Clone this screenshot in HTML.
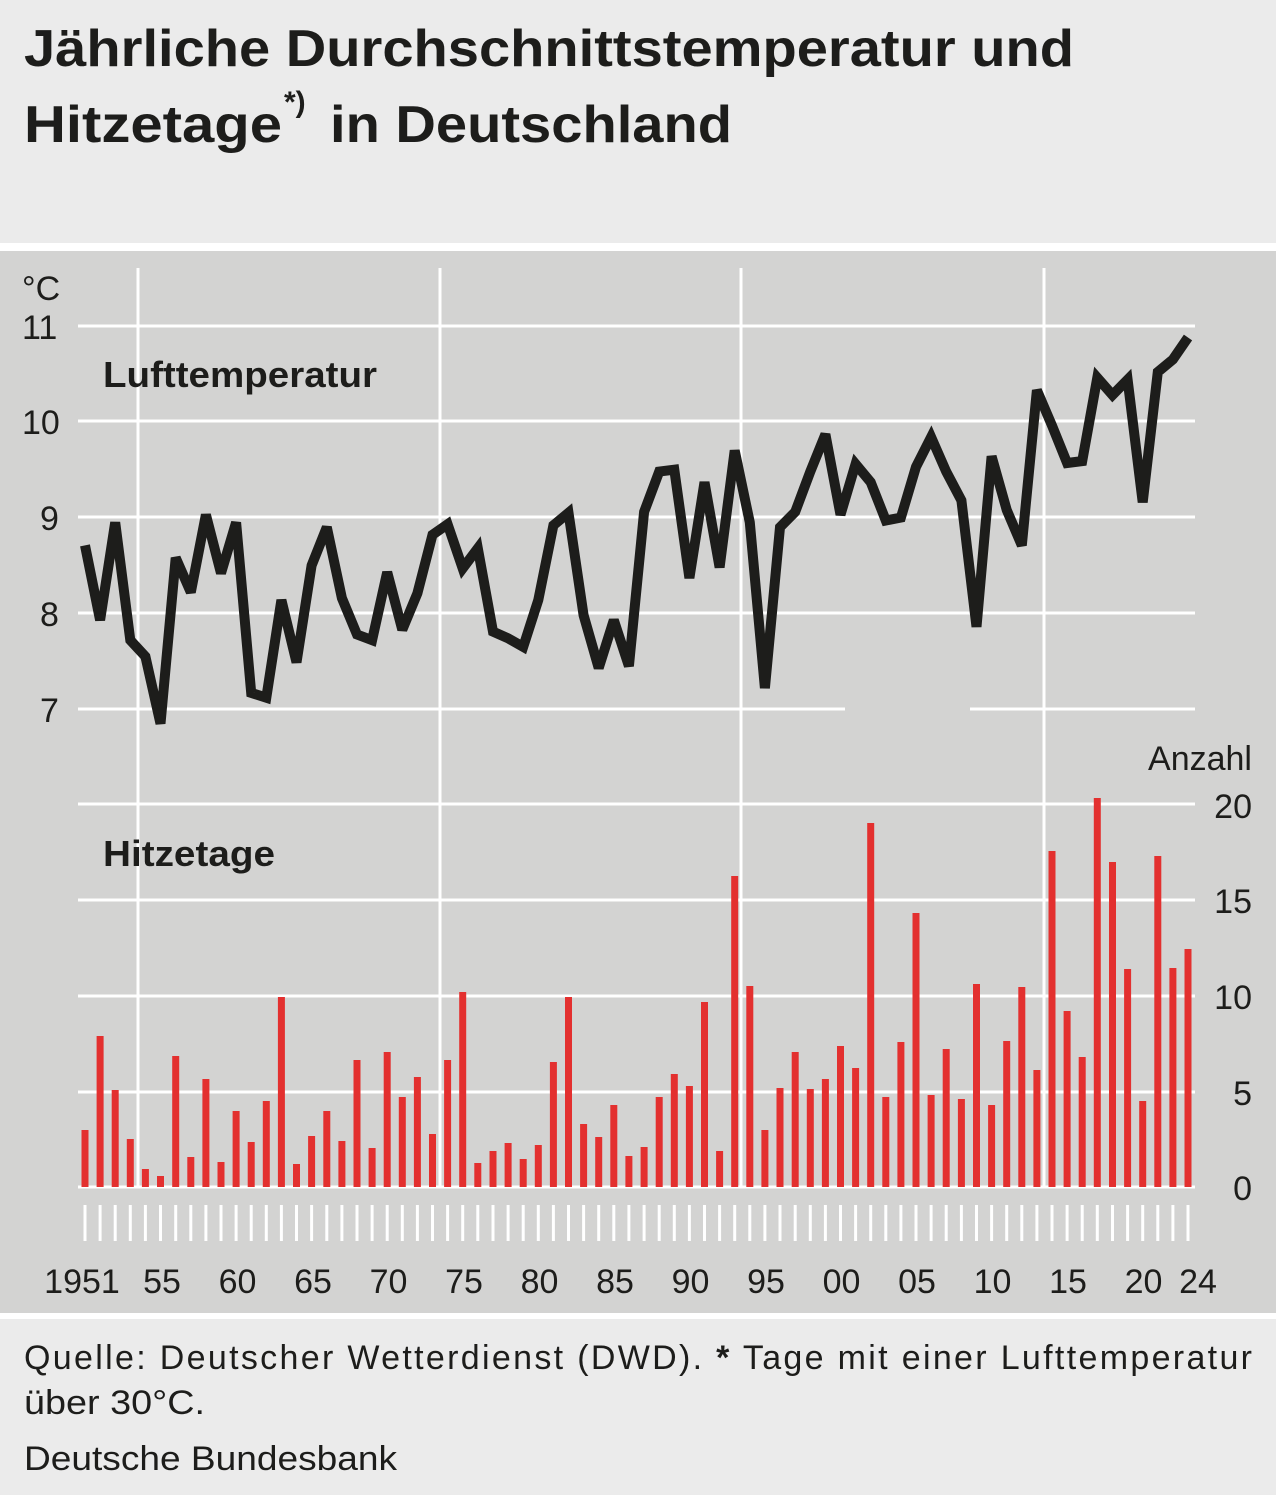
<!DOCTYPE html>
<html><head><meta charset="utf-8"><style>
html,body{margin:0;padding:0;background:#ebebeb;}
svg{display:block;font-family:"Liberation Sans","DejaVu Sans",sans-serif;}
</style></head><body>
<svg id="s" width="1276" height="1495" viewBox="0 0 1276 1495" xmlns="http://www.w3.org/2000/svg">
<rect x="0" y="0" width="1276" height="1495" fill="#ebebeb"/>
<rect x="0" y="243" width="1276" height="8" fill="#ffffff"/>
<rect x="0" y="251" width="1276" height="1062" fill="#d3d3d2"/>
<rect x="0" y="1313" width="1276" height="6" fill="#ffffff"/>
<text x="24" y="66" font-size="52" font-weight="bold" fill="#1d1d1b" textLength="1050" lengthAdjust="spacingAndGlyphs">Jährliche Durchschnittstemperatur und</text>
<text x="24" y="142" font-size="52" font-weight="bold" fill="#1d1d1b" textLength="258" lengthAdjust="spacingAndGlyphs">Hitzetage</text>
<text x="284" y="112" font-size="30" font-weight="bold" fill="#1d1d1b">*)</text>
<text x="330" y="142" font-size="52" font-weight="bold" fill="#1d1d1b" textLength="402" lengthAdjust="spacingAndGlyphs">in Deutschland</text>
<g id="grid" stroke="#ffffff" stroke-width="3"></g>
<g id="bars" fill="#e3302f"></g>
<polyline id="line" fill="none" stroke="#1d1d1b" stroke-width="10" stroke-linejoin="miter" stroke-miterlimit="3"/>
<g id="ticks" stroke="#ffffff" stroke-width="3"></g>
<g font-size="34" fill="#1d1d1b">
<text x="22" y="300">°C</text>
<text x="22" y="339">11</text>
<text x="22" y="434">10</text>
<text x="40" y="530">9</text>
<text x="40" y="626">8</text>
<text x="40" y="722">7</text>
<text x="1252" y="770" text-anchor="end">Anzahl</text>
<text x="1252" y="818" text-anchor="end">20</text>
<text x="1252" y="913" text-anchor="end">15</text>
<text x="1252" y="1009" text-anchor="end">10</text>
<text x="1252" y="1105" text-anchor="end">5</text>
<text x="1252" y="1200" text-anchor="end">0</text>
</g>
<text x="103" y="387" font-size="36" font-weight="bold" fill="#1d1d1b" textLength="274" lengthAdjust="spacingAndGlyphs">Lufttemperatur</text>
<text x="103" y="866" font-size="36" font-weight="bold" fill="#1d1d1b" textLength="172" lengthAdjust="spacingAndGlyphs">Hitzetage</text>
<g id="xl" font-size="34" fill="#1d1d1b" text-anchor="middle"></g>
<text x="24" y="1369" font-size="34" fill="#1d1d1b" textLength="1228" lengthAdjust="spacing">Quelle: Deutscher Wetterdienst (DWD). <tspan font-weight="bold">*</tspan> Tage mit einer Lufttemperatur</text>
<text x="24" y="1414" font-size="34" fill="#1d1d1b" textLength="181" lengthAdjust="spacingAndGlyphs">über 30°C.</text>
<text x="24" y="1470" font-size="34" fill="#1d1d1b" textLength="373" lengthAdjust="spacingAndGlyphs">Deutsche Bundesbank</text>
</svg>
<script>
var NS="http://www.w3.org/2000/svg";
function el(p,t,a,txt){var e=document.createElementNS(NS,t);for(var k in a)e.setAttribute(k,a[k]);if(txt)e.textContent=txt;document.getElementById(p).appendChild(e);return e;}
var hy=[326,421,517,613,709,804,900,996,1092,1187];
hy.forEach(function(y){
 if(y==709){el("grid","line",{x1:78,x2:845,y1:y,y2:y});el("grid","line",{x1:970,x2:1195,y1:y,y2:y});}
 else el("grid","line",{x1:78,x2:1195,y1:y,y2:y});
});
[138,440,741,1044].forEach(function(x){el("grid","line",{x1:x,x2:x,y1:268,y2:1187});});
var temps=[8.71,7.93,8.95,7.72,7.55,6.85,8.58,8.22,9.03,8.42,8.95,7.17,7.12,8.14,7.49,8.5,8.9,8.16,7.78,7.72,8.43,7.83,8.21,8.82,8.93,8.47,8.68,7.81,7.74,7.65,8.14,8.92,9.05,7.98,7.43,7.93,7.45,9.06,9.48,9.5,8.37,9.37,8.48,9.7,8.95,7.22,8.9,9.06,9.48,9.87,9.03,9.56,9.37,8.97,9.0,9.53,9.84,9.48,9.18,7.86,9.64,9.08,8.71,10.33,9.96,9.57,9.59,10.46,10.28,10.44,9.16,10.52,10.65,10.88];
var bt=[1130,1036,1090,1139,1169,1176,1056,1157,1079,1162,1111,1142,1101,997,1164,1136,1111,1141,1060,1148,1052,1097,1077,1134,1060,992,1163,1151,1143,1159,1145,1062,997,1124,1137,1105,1156,1147,1097,1074,1086,1002,1151,876,986,1130,1088,1052,1089,1079,1046,1068,823,1097,1042,913,1095,1049,1099,984,1105,1041,987,1070,851,1011,1057,798,862,969,1101,856,968,949];
var pts=[];
for(var i=0;i<74;i++){
 var x=85+i*(1188-85)/73;
 pts.push(x.toFixed(1)+","+(326+(11-temps[i])*95.8).toFixed(1));
 el("bars","rect",{x:(x-3.5).toFixed(1),y:bt[i],width:7,height:1187-bt[i]});
 el("ticks","line",{x1:x.toFixed(1),x2:x.toFixed(1),y1:1205,y2:1241});
}
document.getElementById("line").setAttribute("points",pts.join(" "));
el("xl","text",{x:82,y:1293},"1951");
var labs=["55","60","65","70","75","80","85","90","95","00","05","10","15","20"];
labs.forEach(function(l,j){el("xl","text",{x:(162+j*75.5).toFixed(1),y:1293},l);});
el("xl","text",{x:1198,y:1293},"24");
</script>
</body></html>
